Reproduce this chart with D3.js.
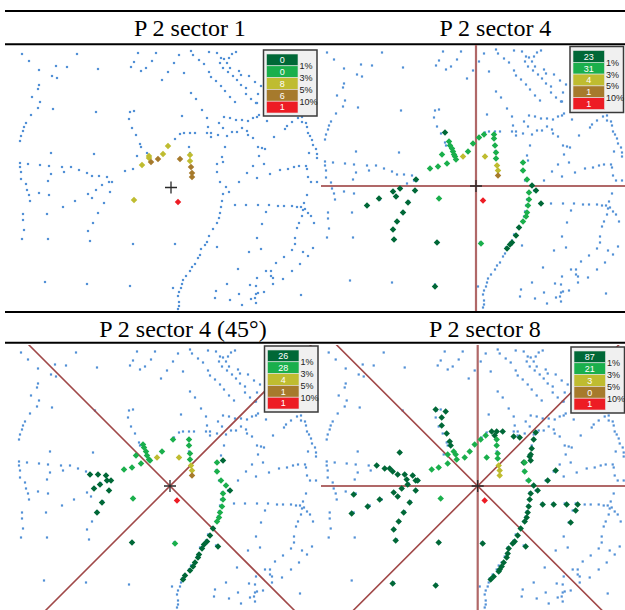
<!DOCTYPE html>
<html>
<head>
<meta charset="utf-8">
<script src="https://cdn.jsdelivr.net/npm/d3@7"></script>
<style>
  body { margin: 0; background: #fff; }
</style>
</head>
<body>
<div id="chart"></div>
<script>
var svgWidth = 625;
var svgHeight = 610;

// Panel titles and the sector boundary angles (degrees) drawn through P 2
var titles = ["P 2 sector 1", "P 2 sector 4", "P 2 sector 4 (45°)", "P 2 sector 8"];
var sectorAngles = [[], [0, 90], [45, 135], [0, 45, 90, 135]];

// Legend classes: counts per panel, thresholds between the classes
var classColors = ["#006837", "#1aaf4c", "#bfbc30", "#a67a2c", "#ed1c24"];
var thresholdLabels = ["1%", "3%", "5%", "10%"];
var legendCounts = [
  [0, 0, 8, 6, 1],
  [23, 31, 4, 1, 1],
  [26, 28, 4, 1, 1],
  [87, 21, 3, 0, 1]
];

// Reference point P 2 in map units
var refPoint = [171, 187.5];

// Road network points (map units)
var roadDots = [
  [22,54],[29,61],[39,70],[56,66],[52,76],[57,78],[67,67],[77,54],[98,69],[39,85],[38,89],[32,97],
  [40,102],[38,108],[53,109],[31,115],[26,123],[24,127],[23,131],[21,136],[20,141],[96,112],[51,153],[94,154],
  [138,53],[156,53],[134,62],[131,67],[141,71],[146,68],[152,61],[179,55],[174,63],[168,72],[162,80],[184,73],
  [191,93],[196,99],[202,110],[207,118],[182,116],[130,112],[134,111],[129,119],[132,128],[136,135],[140,144],
  [141,147],[137,156],[180,134],[184,133],[190,133],[195,133],[175,139],[189,147],[190,153],
  [207,133],[211,137],[218,135],[223,128],[227,136],[232,132],[237,132],[242,128],[247,131],[248,135],[253,138],
  [258,147],[262,148],[265,149],[225,147],[208,127],[211,133],
  [191,51],[193,55],[199,60],[204,64],[209,72],[211,77],[216,81],[221,86],[225,91],[230,97],[235,102],
  [209,52],[217,53],[221,58],[220,63],[223,68],[228,72],[233,76],[237,80],[241,85],[246,88],[246,94],[251,99],[256,103],
  [236,52],[232,54],[229,58],[224,59],[227,63],[230,68],[239,71],[241,75],[249,76],[255,82],[261,86],[258,94],[257,103],
  [219,123],[224,117],[230,118],[236,120],[242,120],[248,121],[253,118],[257,117],[259,115],[267,121],[274,137],
  [285,129],[287,126],[292,122],[298,118],[302,117],[302,122],[306,123],[307,127],[308,133],[310,136],[312,140],
  [313,145],[316,149],[317,154],
  [20,163],[20,167],[21,172],[21,179],[26,184],[27,190],[29,195],[30,201],
  [28,164],[40,165],[49,166],[51,174],[48,181],
  [62,167],[64,172],[71,167],[79,170],[87,173],[92,176],[99,176],[107,177],[112,182],[109,182],[110,192],
  [102,185],[96,190],[88,194],[92,198],[104,203],[98,213],[93,223],[88,231],[90,241],
  [39,193],[49,195],[75,201],[63,207],
  [23,214],[23,220],[24,230],[22,239],[48,239],[47,214],
  [45,282],[87,284],[130,286],[133,244],[175,244],
  [125,171],[133,169],[147,153],
  [222,157],[223,162],[217,164],[217,172],[220,182],[226,187],[229,192],[223,194],[222,201],[221,207],[220,213],
  [219,218],[217,223],[213,229],[209,236],[207,242],[205,245],[201,249],[200,255],[198,258],[195,264],[192,267],
  [190,271],[186,276],[183,280],[182,284],[181,288],[179,292],[178,296],[179,302],[179,306],[178,309],[173,288],[217,247],
  [239,182],[247,173],[253,166],[257,178],[264,164],[259,156],[270,174],[280,170],[288,169],[294,167],[299,166],
  [306,166],[307,169],[311,182],[308,177],[317,158],[309,153],[317,182],
  [235,205],[246,205],[258,205],[269,205],[278,206],[284,206],[292,206],[297,207],[301,207],[304,203],[305,209],
  [303,210],[308,213],[311,216],[314,223],[266,212],[262,224],[307,195],
  [302,216],[299,223],[297,228],[295,238],[295,244],[292,250],[284,257],[276,263],[271,271],[266,271],[273,278],
  [273,284],[271,276],[283,279],[313,248],[308,256],[303,252],[300,264],[292,271],
  [257,238],[261,249],[249,252],[238,269],[227,284],[257,278],[250,285],[256,286],[258,293],[256,294],[255,298],
  [251,299],[256,303],[239,294],[216,291],[215,298],[230,300],[242,305],[264,292],[301,295]
];

// Classified points per panel: [x, y, class]
var points1 = [
  [168,146,2],[163,154,2],[149,156,2],[149,158,2],[142,165,2],[190,155,2],[190,161,2],[134,200,2],
  [151,162,3],[158,159,3],[180,159,3],[191,167,3],[192,173,3],[192,177,3],
  [178,202,4]
];

var points2 = [
  [140,134,0],[111,181,0],[110,192,0],[95,190,0],[88,193,0],[91,198,0],[74,200,0],[62,207,0],[103,204,0],
  [98,214,0],[92,223,0],[88,231,0],[89,241,0],[132,244,0],[130,288,0],[227,187,0],[231,192,0],[236,205,0],
  [214,229,0],[211,237,0],[207,244,0],[205,246,0],[202,250,0],
  [144,143,1],[145,147,1],[147,150,1],[148,153,1],[149,156,1],[150,158,1],[151,161,1],[137,156,1],[163,153,1],
  [168,145,1],[174,139,1],[179,136,1],[189,136,1],[189,140,1],[190,147,1],[191,154,1],[191,160,1],[142,165,1],
  [133,168,1],[125,170,1],[134,200,1],[176,245,1],[218,164,1],[218,172,1],[222,181,1],[224,194,1],[224,201,1],
  [223,207,1],[222,214,1],[221,218,1],[218,223,1],
  [158,158,2],[180,158,2],[192,167,2],[193,172,2],
  [193,177,3],
  [178,202,4]
];

var points3 = [
  [224,162,0],[91,176,0],[99,176,0],[107,177,0],[108,182,0],[112,182,0],[95,190,0],[101,186,0],[110,192,0],
  [103,204,0],[98,214,0],[133,244,0],[231,192,0],[214,230,0],[211,237,0],[208,243,0],[205,246,0],[203,250,0],
  [200,256,0],[199,259,0],[196,264,0],[194,268,0],[191,272,0],[186,277,0],[184,281,0],[219,248,0],
  [144,146,1],[145,149,1],[147,153,1],[148,157,1],[150,161,1],[137,157,1],[163,153,1],[174,141,1],[190,141,1],
  [190,147,1],[191,155,1],[191,161,1],[218,164,1],[151,162,1],[125,171,1],[133,169,1],[142,165,1],[134,200,1],
  [176,245,1],[218,173,1],[222,182,1],[227,187,1],[224,195,1],[224,201,1],[223,208,1],[221,214,1],[220,219,1],
  [218,223,1],
  [158,159,2],[180,159,2],[192,167,2],[193,172,2],
  [193,177,3],
  [178,202,4]
];

var points4 = [
  [129,111,0],[139,113,0],[135,119,0],[135,127,0],[140,135,0],[143,143,0],[144,147,0],[185,133,0],[190,133,0],
  [196,133,0],[188,137,0],[207,138,0],[213,139,0],[229,134,0],[227,141,0],[225,150,0],[224,156,0],[224,162,0],
  [217,164,0],[93,154,0],[70,167,0],[78,170,0],[86,173,0],[91,176,0],[98,176,0],[106,177,0],[109,182,0],
  [111,182,0],[101,186,0],[95,190,0],[87,194,0],[91,198,0],[109,192,0],[103,204,0],[97,214,0],[92,223,0],
  [87,231,0],[89,242,0],[47,196,0],[61,208,0],[73,201,0],[45,215,0],[132,244,0],[176,245,0],[86,285,0],
  [129,287,0],[249,172,0],[241,182,0],[227,187,0],[231,192,0],[224,195,0],[223,201,0],[222,208,0],[221,214,0],
  [220,219,0],[218,223,0],[236,206,0],[247,206,0],[260,206,0],[271,206,0],[269,212,0],[264,224,0],[214,230,0],
  [211,237,0],[208,243,0],[206,245,0],[202,250,0],[201,255,0],[200,259,0],[197,264,0],[195,268,0],[193,271,0],
  [192,273,0],[187,278,0],[184,281,0],[219,248,0],[223,158,0],[100,181,0],[83,170,0],
  [147,153,1],[149,156,1],[150,161,1],[141,156,1],[158,159,1],[163,153,1],[168,146,1],[174,141,1],[179,137,1],
  [190,141,1],[190,147,1],[191,155,1],[191,160,1],[180,159,1],[125,171,1],[132,169,1],[141,165,1],[134,200,1],
  [218,173,1],[222,182,1],[218,164,1],
  [192,167,2],[193,172,2],[193,177,2],
  [178,202,4]
];

var panelPoints = [points1, points2, points3, points4];

// Panel frames on the page, and where P 2 lands in each
var panels = [
  {x0: 5,   x1: 319, y0: 45,  y1: 311, cx: 171,   cy: 187.5, titleX: 190,   titleY: 36,  legX: 263.5, legY: 50},
  {x0: 321, x1: 625, y0: 45,  y1: 311, cx: 476,   cy: 186,   titleX: 495.5, titleY: 36,  legX: 570,   legY: 46.5},
  {x0: 5,   x1: 319, y0: 345, y1: 610, cx: 170,   cy: 486,   titleX: 183,   titleY: 337, legX: 264.5, legY: 346},
  {x0: 321, x1: 625, y0: 345, y1: 610, cx: 477.7, cy: 486,   titleX: 485,   titleY: 337, legX: 571,   legY: 347}
];

var svg = d3.select("#chart")
  .append("svg")
  .attr("width", svgWidth)
  .attr("height", svgHeight)
  .style("display", "block");

// Rules above and below the titles
[11, 44.3, 312, 342.8].forEach(function(y) {
  svg.append("line")
    .attr("x1", 5).attr("x2", 625)
    .attr("y1", y).attr("y2", y)
    .attr("stroke", "#000")
    .attr("stroke-width", 2);
});

var diamond = d3.symbol().type(d3.symbolSquare).size(21);

panels.forEach(function(p, i) {
  // Step 1: scales from map units to this panel
  var xScale = d3.scaleLinear()
    .domain([0, 320])
    .range([p.cx - refPoint[0], p.cx - refPoint[0] + 320]);
  var yScale = d3.scaleLinear()
    .domain([0, 320])
    .range([p.cy - refPoint[1], p.cy - refPoint[1] + 320]);

  svg.append("clipPath")
    .attr("id", "clip" + i)
    .append("rect")
    .attr("x", p.x0).attr("y", p.y0)
    .attr("width", p.x1 - p.x0).attr("height", p.y1 - p.y0);

  var g = svg.append("g").attr("clip-path", "url(#clip" + i + ")");

  // Step 2: road network
  g.selectAll("rect.road")
    .data(roadDots)
    .enter()
    .append("rect")
    .attr("class", "road")
    .attr("x", d => xScale(d[0]) - 1.1)
    .attr("y", d => yScale(d[1]) - 1.1)
    .attr("width", 2.2)
    .attr("height", 2.2)
    .attr("fill", "#5290d6");

  // Step 3: sector boundaries through P 2
  var px = xScale(refPoint[0]), py = yScale(refPoint[1]);
  g.selectAll("line.sector")
    .data(sectorAngles[i])
    .enter()
    .append("line")
    .attr("class", "sector")
    .attr("x1", a => px - 600 * Math.cos(a * Math.PI / 180))
    .attr("y1", a => py + 600 * Math.sin(a * Math.PI / 180))
    .attr("x2", a => px + 600 * Math.cos(a * Math.PI / 180))
    .attr("y2", a => py - 600 * Math.sin(a * Math.PI / 180))
    .attr("stroke", a => a % 90 === 0 ? "#b06868" : "#a04848")
    .attr("stroke-width", a => a % 90 === 0 ? 2.2 : 1.6);

  // Step 4: classified points
  g.selectAll("path.pt")
    .data(panelPoints[i])
    .enter()
    .append("path")
    .attr("class", "pt")
    .attr("d", diamond)
    .attr("transform", d => `translate(${xScale(d[0])},${yScale(d[1])}) rotate(45)`)
    .attr("fill", d => classColors[d[2]]);

  // crosshair on P 2
  g.append("path")
    .attr("d", `M${px - 6},${py}H${px + 6}M${px},${py - 6}V${py + 6}`)
    .attr("stroke", "#2a2a2a")
    .attr("stroke-width", 1.3)
    .attr("fill", "none");

  // Step 5: title
  svg.append("text")
    .attr("x", p.titleX)
    .attr("y", p.titleY)
    .attr("text-anchor", "middle")
    .style("font-family", "'Liberation Serif', 'Times New Roman', serif")
    .style("font-size", "24px")
    .attr("fill", "#000")
    .text(titles[i]);

  // Step 6: legend
  var leg = svg.append("g")
    .attr("transform", `translate(${p.legX}, ${p.legY})`);
  leg.append("rect")
    .attr("width", 53.5).attr("height", 66)
    .attr("fill", "#f0f0f0")
    .attr("stroke", "#3a3a3a")
    .attr("stroke-width", 1.5);

  var cellH = 11.8;
  leg.selectAll("rect.cell")
    .data(legendCounts[i])
    .enter()
    .append("rect")
    .attr("class", "cell")
    .attr("x", 3)
    .attr("y", (d, k) => 4 + k * cellH)
    .attr("width", 31.5)
    .attr("height", cellH)
    .attr("fill", (d, k) => classColors[k])
    .attr("stroke", "#e4e4e4")
    .attr("stroke-width", 0.6);

  leg.selectAll("text.count")
    .data(legendCounts[i])
    .enter()
    .append("text")
    .attr("class", "count")
    .attr("x", 18.75)
    .attr("y", (d, k) => 4 + k * cellH + cellH / 2 + 3.3)
    .attr("text-anchor", "middle")
    .style("font-family", "'Liberation Sans', Arial, sans-serif")
    .style("font-size", "9px")
    .attr("fill", "#fff")
    .text(d => d);

  leg.selectAll("text.thr")
    .data(thresholdLabels)
    .enter()
    .append("text")
    .attr("class", "thr")
    .attr("x", 36)
    .attr("y", (d, k) => 4 + (k + 1) * cellH + 3.5)
    .style("font-family", "'Liberation Sans', Arial, sans-serif")
    .style("font-size", "9px")
    .attr("fill", "#222")
    .text(d => d);
});
</script>
</body>
</html>
